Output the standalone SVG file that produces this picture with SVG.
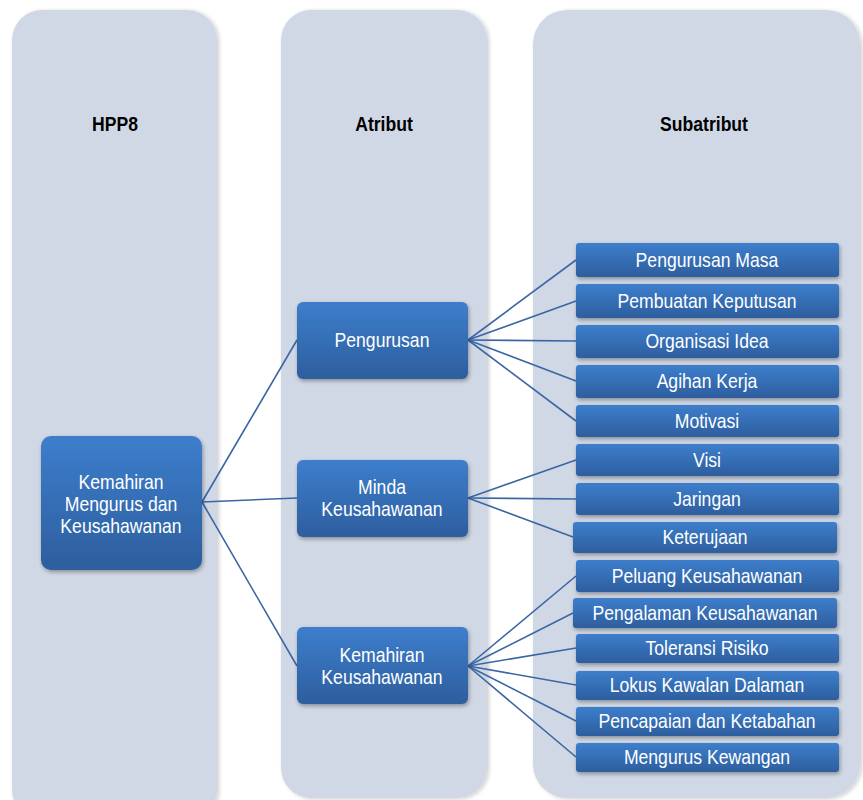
<svg xmlns="http://www.w3.org/2000/svg" width="863" height="800" viewBox="0 0 863 800">
<defs>
<linearGradient id="g" x1="0" y1="0" x2="0" y2="1">
<stop offset="0" stop-color="#3D7ECC"/>
<stop offset="1" stop-color="#2D5E9E"/>
</linearGradient>
<filter id="sh" x="-10%" y="-10%" width="125%" height="140%">
<feGaussianBlur in="SourceAlpha" stdDeviation="2"/>
<feOffset dx="1" dy="2"/>
<feComponentTransfer><feFuncA type="linear" slope="0.35"/></feComponentTransfer>
<feMerge><feMergeNode/><feMergeNode in="SourceGraphic"/></feMerge>
</filter>
<filter id="csh" x="-5%" y="-5%" width="110%" height="110%">
<feGaussianBlur in="SourceAlpha" stdDeviation="2"/>
<feOffset dx="2" dy="1"/>
<feComponentTransfer><feFuncA type="linear" slope="0.2"/></feComponentTransfer>
<feMerge><feMergeNode/><feMergeNode in="SourceGraphic"/></feMerge>
</filter>
</defs>
<style>
.col{fill:#D0D8E6;filter:url(#csh)}
.hd{font-family:"Liberation Sans",Arial,sans-serif;font-weight:bold;font-size:20px;fill:#000;text-anchor:middle}
.bx{fill:url(#g);filter:url(#sh)}
.t{font-family:"Liberation Sans",Arial,sans-serif;font-size:20px;fill:#fff;text-anchor:middle}
.c line{stroke:#3B66A3;stroke-width:1.6}
</style>
<rect width="863" height="800" fill="#fff"/>
<g id="columns">
<rect class="col" x="12" y="10" width="205" height="810" rx="30"/>
<rect class="col" x="281" y="10" width="206" height="788" rx="30"/>
<rect class="col" x="533" y="10" width="327" height="788" rx="34"/>
<text class="hd" transform="translate(115 131) scale(0.88 1)">HPP8</text>
<text class="hd" transform="translate(384 131) scale(0.88 1)">Atribut</text>
<text class="hd" transform="translate(704 131) scale(0.88 1)">Subatribut</text>
</g>
<g class="c" id="connectors">
<line x1="202" y1="502" x2="297" y2="340"/>
<line x1="202" y1="502" x2="297" y2="498"/>
<line x1="202" y1="502" x2="297" y2="666"/>
<line x1="468" y1="340" x2="576" y2="260"/>
<line x1="468" y1="340" x2="576" y2="301"/>
<line x1="468" y1="340" x2="576" y2="341"/>
<line x1="468" y1="340" x2="576" y2="381"/>
<line x1="468" y1="340" x2="576" y2="421"/>
<line x1="468" y1="498" x2="576" y2="460"/>
<line x1="468" y1="498" x2="576" y2="499"/>
<line x1="468" y1="498" x2="573" y2="537"/>
<line x1="468" y1="666" x2="576" y2="576"/>
<line x1="468" y1="666" x2="573" y2="613"/>
<line x1="468" y1="666" x2="576" y2="648"/>
<line x1="468" y1="666" x2="576" y2="685"/>
<line x1="468" y1="666" x2="576" y2="721"/>
<line x1="468" y1="666" x2="576" y2="757"/>
</g>
<g id="n-root"><rect class="bx" x="41" y="436" width="161" height="134" rx="10"/>
<text class="t" transform="translate(121 489) scale(0.88 1)">Kemahiran</text><text class="t" transform="translate(121 511) scale(0.88 1)">Mengurus dan</text><text class="t" transform="translate(121 533) scale(0.88 1)">Keusahawanan</text></g>
<g id="n-pengurusan"><rect class="bx" x="297" y="302" width="171" height="77" rx="6"/>
<text class="t" transform="translate(382 347) scale(0.88 1)">Pengurusan</text></g>
<g id="n-minda"><rect class="bx" x="297" y="460" width="171" height="77" rx="6"/>
<text class="t" transform="translate(382 494) scale(0.88 1)">Minda</text><text class="t" transform="translate(382 516) scale(0.88 1)">Keusahawanan</text></g>
<g id="n-kemahiran"><rect class="bx" x="297" y="627" width="171" height="77" rx="6"/>
<text class="t" transform="translate(382 662) scale(0.88 1)">Kemahiran</text><text class="t" transform="translate(382 684) scale(0.88 1)">Keusahawanan</text></g>
<g id="s1"><rect class="bx" x="576" y="243" width="263" height="34" rx="3"/><text class="t" transform="translate(707 267) scale(0.88 1)">Pengurusan Masa</text></g>
<g id="s2"><rect class="bx" x="576" y="284" width="263" height="34" rx="3"/><text class="t" transform="translate(707 308) scale(0.88 1)">Pembuatan Keputusan</text></g>
<g id="s3"><rect class="bx" x="576" y="325" width="263" height="33" rx="3"/><text class="t" transform="translate(707 348) scale(0.88 1)">Organisasi Idea</text></g>
<g id="s4"><rect class="bx" x="576" y="365" width="263" height="33" rx="3"/><text class="t" transform="translate(707 388) scale(0.88 1)">Agihan Kerja</text></g>
<g id="s5"><rect class="bx" x="576" y="405" width="263" height="32" rx="3"/><text class="t" transform="translate(707 428) scale(0.88 1)">Motivasi</text></g>
<g id="s6"><rect class="bx" x="576" y="444" width="263" height="32" rx="3"/><text class="t" transform="translate(707 467) scale(0.88 1)">Visi</text></g>
<g id="s7"><rect class="bx" x="576" y="483" width="263" height="32" rx="3"/><text class="t" transform="translate(707 506) scale(0.88 1)">Jaringan</text></g>
<g id="s8"><rect class="bx" x="573" y="522" width="264" height="31" rx="3"/><text class="t" transform="translate(705 544) scale(0.88 1)">Keterujaan</text></g>
<g id="s9"><rect class="bx" x="576" y="560" width="263" height="32" rx="3"/><text class="t" transform="translate(707 583) scale(0.88 1)">Peluang Keusahawanan</text></g>
<g id="s10"><rect class="bx" x="573" y="598" width="264" height="30" rx="3"/><text class="t" transform="translate(705 620) scale(0.88 1)">Pengalaman Keusahawanan</text></g>
<g id="s11"><rect class="bx" x="576" y="634" width="263" height="29" rx="3"/><text class="t" transform="translate(707 655) scale(0.88 1)">Toleransi Risiko</text></g>
<g id="s12"><rect class="bx" x="576" y="671" width="263" height="29" rx="3"/><text class="t" transform="translate(707 692) scale(0.88 1)">Lokus Kawalan Dalaman</text></g>
<g id="s13"><rect class="bx" x="576" y="707" width="263" height="29" rx="3"/><text class="t" transform="translate(707 728) scale(0.88 1)">Pencapaian dan Ketabahan</text></g>
<g id="s14"><rect class="bx" x="576" y="743" width="263" height="29" rx="3"/><text class="t" transform="translate(707 764) scale(0.88 1)">Mengurus Kewangan</text></g>
</svg>
